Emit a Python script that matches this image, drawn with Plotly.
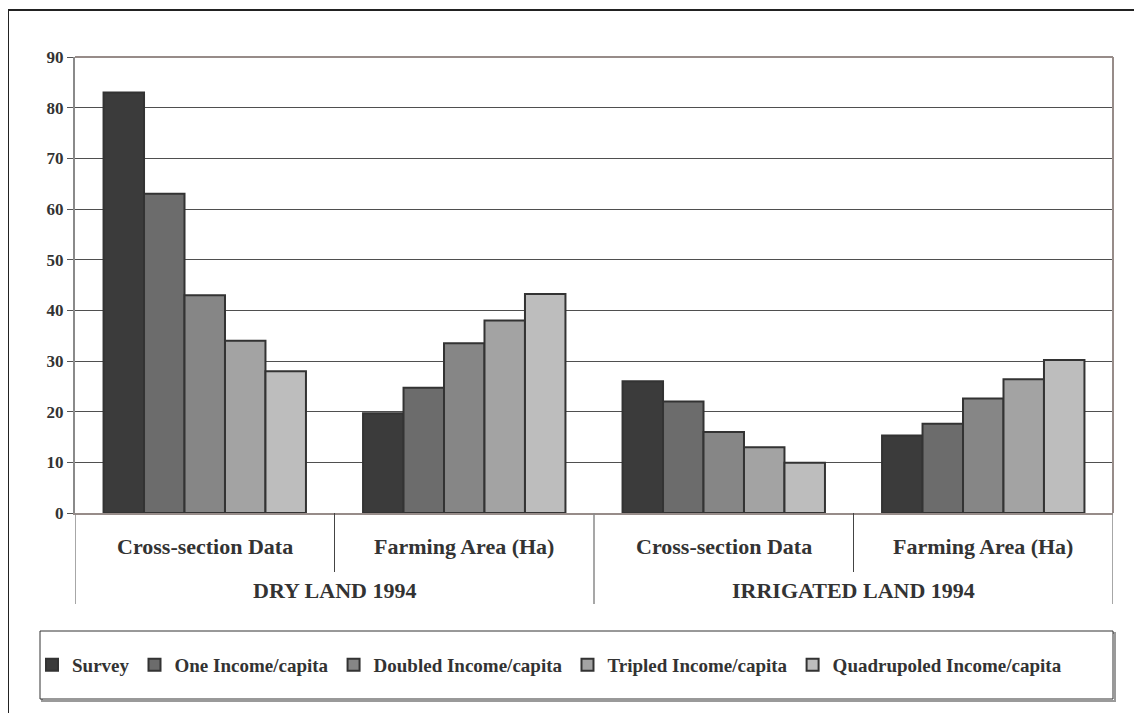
import plotly.graph_objects as go

# ---- data ----
groups = ["DRY LAND 1994", "IRRIGATED LAND 1994"]
subcats = ["Cross-section Data", "Farming Area (Ha)"]
categories = [f"{g} | {s}" for g in groups for s in subcats]
series_names = ["Survey", "One Income/capita", "Doubled Income/capita",
                "Tripled Income/capita", "Quadrupoled Income/capita"]
survey = [83, 19.7, 26.0, 15.3]
one_income = [63, 24.7, 22.0, 17.6]
doubled_income = [43, 33.5, 16.0, 22.6]
tripled_income = [34, 38.0, 13.0, 26.4]
quadrupled_income = [28, 43.2, 9.9, 30.2]
series_values = [survey, one_income, doubled_income, tripled_income, quadrupled_income]
y_ticks = list(range(0, 91, 10))

colors = ["#3b3b3b", "#6c6c6c", "#868686", "#a3a3a3", "#bdbdbd"]
FONT = "Liberation Serif"

OFF = 8  # page body margin
W, H = 1142 - OFF, 713 - OFF
# plot area in page pixels
PL, PR, PT, PB = 75, 1113, 57, 513
L, T = PL - OFF, PT - OFF
R = W - (PR - OFF)
B = H - (PB - OFF)
pw, ph = W - L - R, H - T - B


def px_x(p):
    return (p - PL) / pw


def px_y(p):
    return (PB - p) / ph


fig = go.Figure()
for name, vals, c in zip(series_names, series_values, colors):
    fig.add_trace(go.Bar(
        x=categories, y=vals, name=name,
        marker=dict(color=c, line=dict(color="#333333", width=2)),
    ))

shapes = []
# outer frame
shapes.append(dict(type="rect", xref="paper", yref="paper",
                   x0=px_x(8), x1=px_x(1180), y0=px_y(780), y1=px_y(10),
                   line=dict(color="#222222", width=2), layer="below"))
# plot top & right border
shapes.append(dict(type="line", xref="paper", yref="paper",
                   x0=0, x1=1, y0=1, y1=1, line=dict(color="#978c89", width=2)))
shapes.append(dict(type="line", xref="paper", yref="paper",
                   x0=1, x1=1, y0=0, y1=1, line=dict(color="#978c89", width=2)))
# category dividers
for i in range(len(categories) + 1):
    xb = i - 0.5
    outer = (i % 2 == 0)
    shapes.append(dict(type="line", xref="x", yref="paper",
                       x0=xb, x1=xb, y0=0,
                       y1=px_y(604) if outer else px_y(572),
                       line=dict(color="#8a8a8a" if outer else "#444444",
                                 width=1.5 if outer else 1)))
# legend box with shadow
shapes.append(dict(type="rect", xref="paper", yref="paper",
                   x0=px_x(42), x1=px_x(1115), y0=px_y(701), y1=px_y(633),
                   line=dict(color="#9a9a9a", width=2), layer="below"))
shapes.append(dict(type="rect", xref="paper", yref="paper",
                   x0=px_x(40), x1=px_x(1113), y0=px_y(699), y1=px_y(631),
                   line=dict(color="#333333", width=1), fillcolor="white", layer="below"))

annotations = []
for i, cat in enumerate(categories):
    annotations.append(dict(x=cat, y=px_y(546), xref="x", yref="paper",
                            text=subcats[i % 2], showarrow=False,
                            font=dict(family=FONT, size=22, color="#333333", weight="bold"),
                            yanchor="middle"))
for j, g in enumerate(groups):
    annotations.append(dict(x=2 * j + 0.5, y=px_y(590), xref="x", yref="paper",
                            text=g, showarrow=False,
                            font=dict(family=FONT, size=22, color="#333333", weight="bold"),
                            yanchor="middle"))

fig.update_layout(
    width=W, height=H,
    margin=dict(l=L, r=R, t=T, b=B, autoexpand=False),
    paper_bgcolor="white", plot_bgcolor="white",
    barmode="group", bargap=0.22, bargroupgap=0,
    shapes=shapes, annotations=annotations,
    showlegend=True,
    legend=dict(orientation="h", xref="container", x=(32 - OFF) / W, xanchor="left",
                y=px_y(665), yanchor="middle",
                font=dict(family=FONT, size=19, color="#333333", weight="bold"),
                bgcolor="rgba(0,0,0,0)", borderwidth=0,
                itemwidth=30, tracegroupgap=0),
    xaxis=dict(type="category", showticklabels=False, ticks="",
               showline=True, linecolor="#978c89", linewidth=2,
               showgrid=False, zeroline=False, range=[-0.5, 3.5]),
    yaxis=dict(range=[0, 90], tickvals=y_ticks, ticks="outside", ticklen=6,
               tickcolor="#555555", showline=True, linecolor="#8a8a8a", linewidth=2,
               showgrid=True, gridcolor="#4f4f4f", gridwidth=1, zeroline=False,
               tickfont=dict(family=FONT, size=17, color="#333333", weight="bold")),
)

fig.write_html("out.html")
